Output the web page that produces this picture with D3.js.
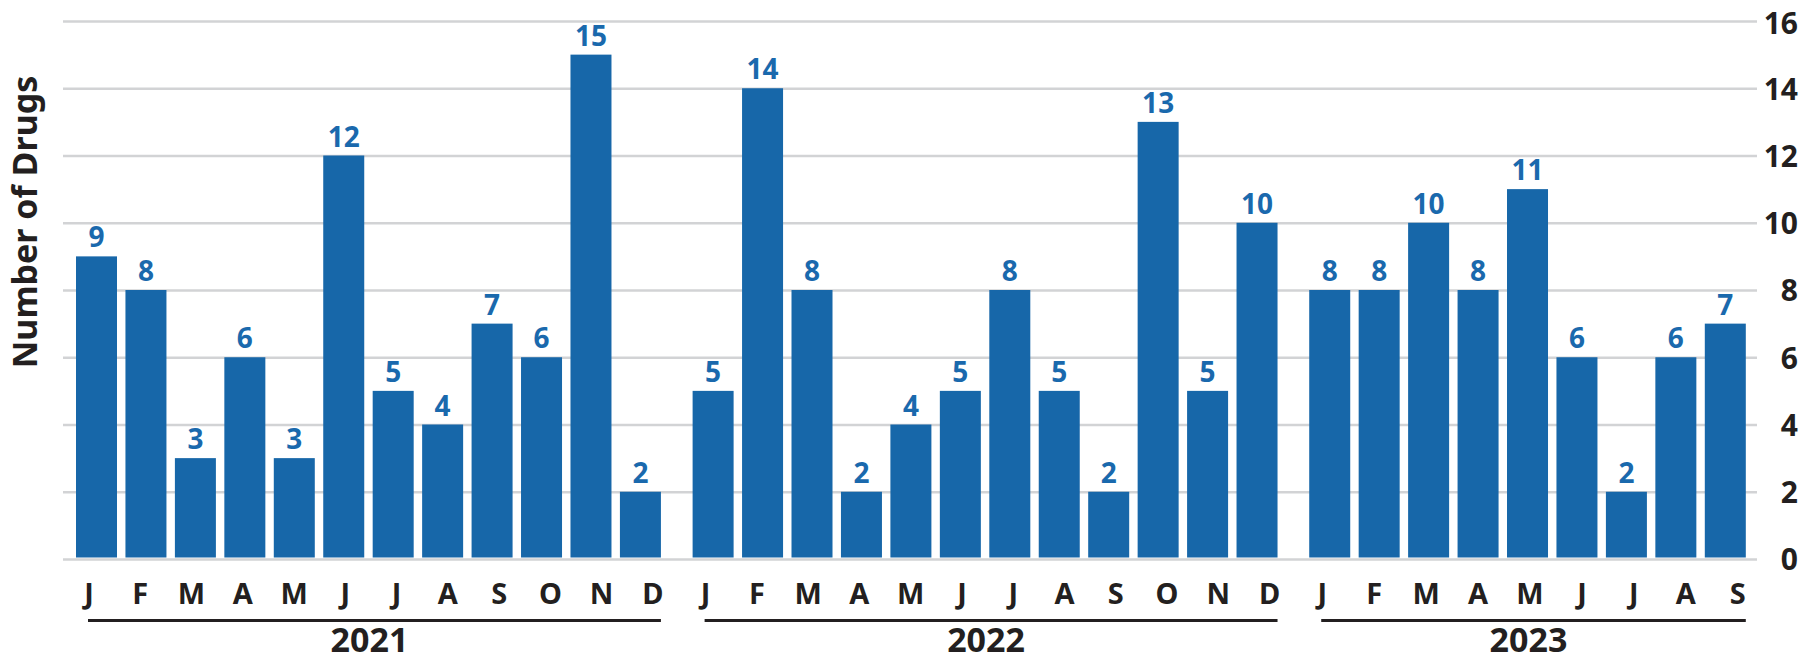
<!DOCTYPE html>
<html>
<head>
<meta charset="utf-8">
<script src="https://cdn.jsdelivr.net/npm/d3@7"></script>
<style>
  html, body { margin: 0; padding: 0; background: #fff; }
  svg { display: block; }
  text { font-family: "Noto Sans", "DejaVu Sans", sans-serif; font-weight: 700; }
</style>
</head>
<body>
<svg id="chart" width="1800" height="663"></svg>
<script>
// ---- data ----
const years = ["2021", "2022", "2023"];
const monthLabels2021 = ["J","F","M","A","M","J","J","A","S","O","N","D"];
const monthLabels2022 = ["J","F","M","A","M","J","J","A","S","O","N","D"];
const monthLabels2023 = ["J","F","M","A","M","J","J","A","S"];
const values2021 = [9, 8, 3, 6, 3, 12, 5, 4, 7, 6, 15, 2];
const values2022 = [5, 14, 8, 2, 4, 5, 8, 5, 2, 13, 5, 10];
const values2023 = [8, 8, 10, 8, 11, 6, 2, 6, 7];
const yTicks = [0, 2, 4, 6, 8, 10, 12, 14, 16];
const yAxisTitle = "Number of Drugs";

// ---- build table ----
const groups = [
  { year: years[0], labels: monthLabels2021, values: values2021 },
  { year: years[1], labels: monthLabels2022, values: values2022 },
  { year: years[2], labels: monthLabels2023, values: values2023 }
];
const yearGap = 0.47; // extra spacing between year groups (in bar steps)
const rows = [];
let idx = 0;
groups.forEach((g, gi) => {
  g.values.forEach((v, mi) => {
    rows.push({ year: g.year, gi, mi, label: g.labels[mi], value: v, pos: idx + gi * yearGap });
    idx++;
  });
});
const lastPos = rows[rows.length - 1].pos;

// ---- styles ----
const barColor = "#1767a9";
const labelColor = "#1a69ad";
const textColor = "#231f20";
const gridColor = "#d2d3d5";

const svg = d3.select("#chart");
const barW = 41;
const x = d3.scaleLinear().domain([0, lastPos]).range([76, 1704.8]);
const y = d3.scaleLinear().domain([0, 16]).range([559, 21]);
const gridLeft = 63, gridRight = 1757;

// gridlines + right axis
const axis = d3.axisRight(y).tickValues(yTicks).tickSize(-(gridRight - gridLeft)).tickPadding(0);
const ag = svg.append("g").attr("transform", `translate(${gridRight},0)`).call(axis);
ag.select(".domain").remove();
ag.selectAll(".tick line").attr("stroke", gridColor).attr("stroke-width", 2.6);
ag.selectAll(".tick text")
  .attr("x", 41).attr("dy", "0.36em")
  .attr("text-anchor", "end")
  .attr("fill", textColor)
  .style("font-size", "30px")
  .style("font-family", '"Noto Sans", sans-serif')
  .style("font-weight", 700);
// keep the top label fully inside the canvas
ag.selectAll(".tick").filter(d => d === 16).select("text").attr("dy", "0.43em");

// bars
svg.append("g").selectAll("rect").data(rows).join("rect")
  .attr("x", d => x(d.pos))
  .attr("width", barW)
  .attr("y", d => y(d.value))
  .attr("height", d => y(0) - 1.5 - y(d.value))
  .attr("fill", barColor);

// value labels
svg.append("g").selectAll("text").data(rows).join("text")
  .attr("x", d => x(d.pos) + barW / 2)
  .attr("y", d => y(d.value) - 9)
  .attr("text-anchor", "middle")
  .attr("fill", labelColor)
  .style("font-size", "28px")
  .text(d => d.value);

// month labels, year lines and year labels
groups.forEach((g, gi) => {
  const gr = rows.filter(r => r.gi === gi);
  const lineStart = x(gr[0].pos) + 12;
  const lineEnd = x(gr[gr.length - 1].pos) + barW;
  const lx = d3.scalePoint().domain(d3.range(gr.length)).range([lineStart + 1, lineEnd - 8]);
  svg.append("g").selectAll("text").data(gr).join("text")
    .attr("x", d => lx(d.mi))
    .attr("y", 604)
    .attr("text-anchor", "middle")
    .attr("fill", textColor)
    .style("font-size", "29px")
    .text(d => d.label);
  svg.append("line")
    .attr("x1", lineStart).attr("x2", lineEnd)
    .attr("y1", 620.5).attr("y2", 620.5)
    .attr("stroke", textColor).attr("stroke-width", 3);
  svg.append("text")
    .attr("x", (lineStart + lineEnd) / 2 - 5)
    .attr("y", 652)
    .attr("text-anchor", "middle")
    .attr("fill", textColor)
    .style("font-size", "34px")
    .text(g.year);
});

// y axis title
svg.append("text")
  .attr("transform", "translate(37,222) rotate(-90)")
  .attr("text-anchor", "middle")
  .attr("fill", textColor)
  .style("font-size", "34px")
  .text(yAxisTitle);
</script>
</body>
</html>
